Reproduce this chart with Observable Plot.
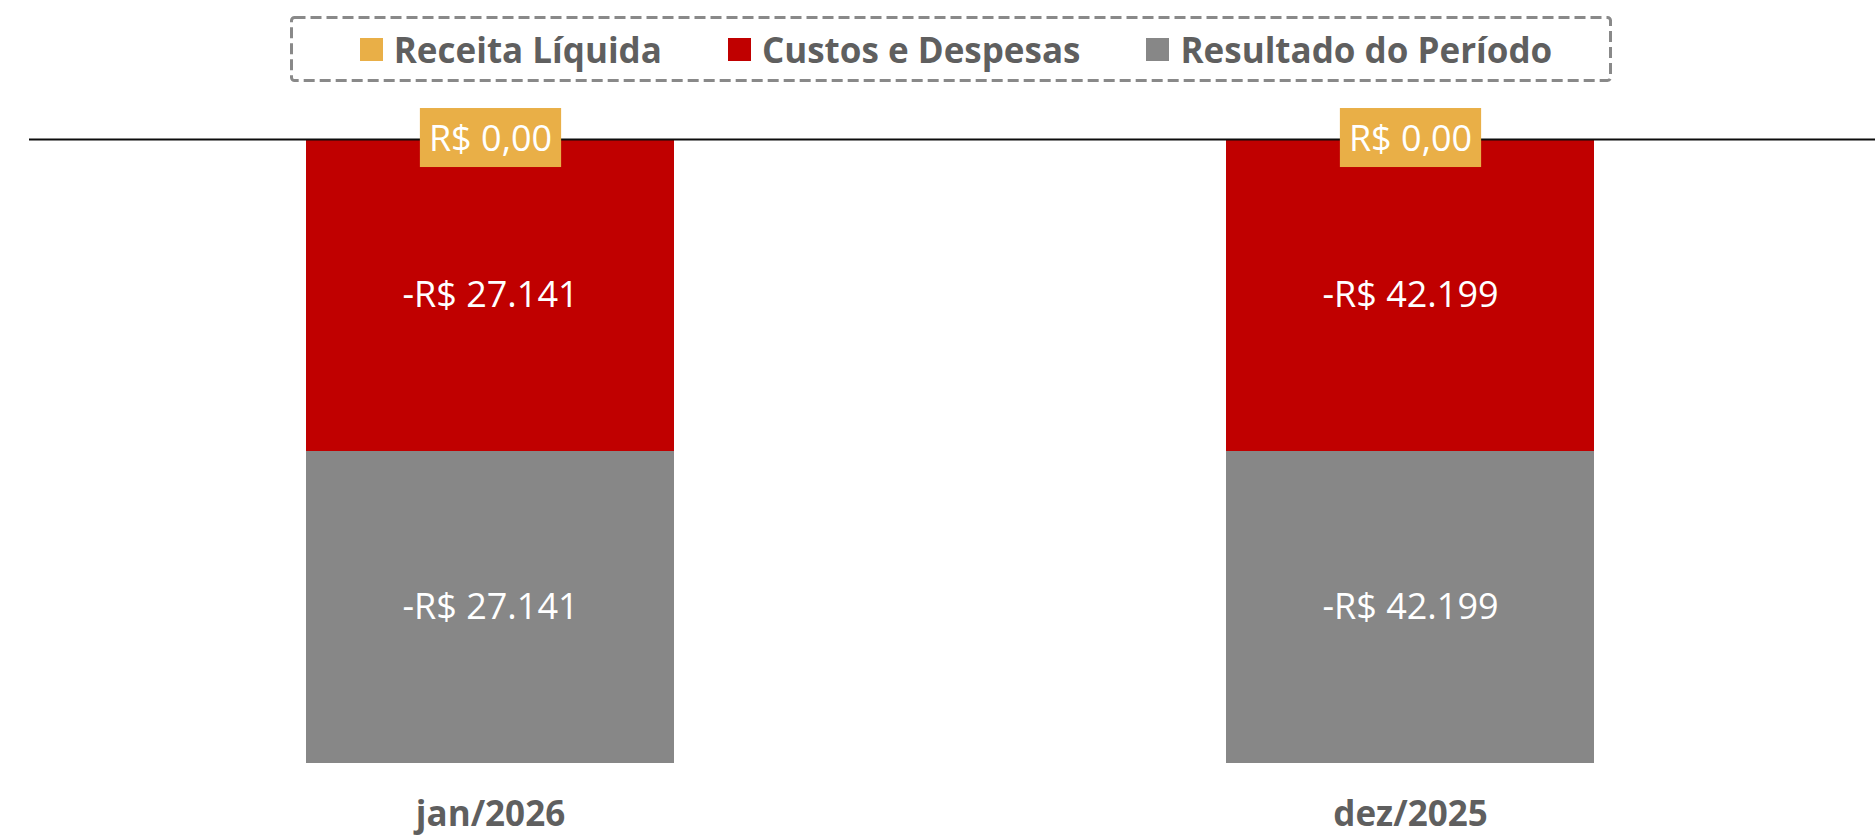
<!DOCTYPE html>
<html>
<head>
<meta charset="utf-8">
<script src="https://cdn.jsdelivr.net/npm/d3@7"></script>
<script src="https://cdn.jsdelivr.net/npm/@observablehq/plot@0.6"></script>
<style>
  html, body { margin: 0; padding: 0; background: #fff; width: 1875px; height: 837px; overflow: hidden; }
  #legend { position: relative; width: 1875px; height: 95px; font-family: "Open Sans", sans-serif; }
  #legend .box { position: absolute; left: 290px; top: 16px; width: 1322px; height: 66px; }
  #legend .box svg { position: absolute; left: 0; top: 0; }
  #legend .items { position: absolute; left: 0; top: 0; width: 100%; height: 100%; display: flex; align-items: center; justify-content: center; gap: 66px; padding-left: 10px; box-sizing: border-box; }
  #legend .item { display: flex; align-items: center; gap: 11px; font-weight: 700; font-size: 35px; color: #5f5f5f; white-space: nowrap; }
  #legend .sw { width: 23px; height: 23px; display: inline-block; }
  #chart svg { display: block; }
</style>
</head>
<body>
<div id="legend"></div>
<div id="chart"></div>
<script>
// ---- data ----
const months = ["jan/2026", "dez/2025"];
const series = ["Receita Líquida", "Custos e Despesas", "Resultado do Período"];
const colors = ["#E9AF47", "#C00000", "#878787"];
const receita = [0, 0];
const custos = [-27141, -42199];
const resultado = [-27141, -42199];

// ---- formatting (pt-BR) ----
const br = d3.formatLocale({decimal: ",", thousands: ".", grouping: [3], currency: ["R$ ", ""], minus: "-"});
const fmtInt = br.format("$,.0f");
const fmtDec = br.format("$,.2f");

// ---- table ----
const rows = [];
months.forEach((m, i) => {
  const vals = [receita[i], custos[i], resultado[i]];
  const total = d3.sum(vals, Math.abs) || 1;
  vals.forEach((v, j) => rows.push({month: m, series: series[j], value: v, share: v / total}));
});

// ---- legend ----
const legend = document.getElementById("legend");
const box = document.createElement("div");
box.className = "box";
box.innerHTML = `<svg width="1322" height="66"><rect x="1.5" y="1.5" width="1319" height="63" rx="3" fill="none" stroke="#898989" stroke-width="3" stroke-dasharray="11 5"/></svg>`;
const items = document.createElement("div");
items.className = "items";
series.forEach((s, i) => {
  const it = document.createElement("div");
  it.className = "item";
  it.innerHTML = `<span class="sw" style="background:${colors[i]}"></span><span>${s}</span>`;
  items.appendChild(it);
});
box.appendChild(items);
legend.appendChild(box);

// ---- chart ----
const chart = Plot.plot({
  width: 1875,
  height: 742,
  marginLeft: 29,
  marginRight: 0,
  marginTop: 44,
  marginBottom: 74,
  style: {fontFamily: '"Open Sans", sans-serif', background: "white", overflow: "visible"},
  x: {domain: months, padding: 0.6, paddingOuter: 0.3022, align: 0.496, axis: null},
  y: {domain: [-1, 0], axis: null},
  color: {domain: series, range: colors},
  marks: [
    Plot.barY(rows, Plot.stackY({x: "month", y: "share", fill: "series", order: null})),
    Plot.ruleY([0], {stroke: "#0d0d0d", strokeWidth: 2}),
    Plot.text(rows, Plot.stackY({
      x: "month", y: "share", order: null,
      text: d => d.series === series[0] ? null : fmtInt(d.value),
      fill: "white", fontSize: 36
    })),
    Plot.text(rows, {
      filter: d => d.series === series[0],
      x: "month", y: "share",
      text: d => fmtDec(d.value),
      fill: "white", fontSize: 36, className: "rec-label"
    }),
    Plot.axisX({tickSize: 0, tickPadding: 38, fontSize: 35, fontWeight: "bold", color: "#5f5f5f", label: null})
  ]
});
document.getElementById("chart").appendChild(chart);

// orange background boxes behind the receita labels
chart.querySelectorAll("g.rec-label text").forEach(t => {
  const b = t.getBBox();
  const r = document.createElementNS("http://www.w3.org/2000/svg", "rect");
  const h = 59;
  r.setAttribute("x", b.x - 9);
  r.setAttribute("y", b.y + b.height / 2 - h / 2);
  r.setAttribute("width", b.width + 18);
  r.setAttribute("height", h);
  r.setAttribute("fill", colors[0]);
  const tr = t.getAttribute("transform");
  if (tr) r.setAttribute("transform", tr);
  t.parentNode.insertBefore(r, t);
});
</script>
</body>
</html>
